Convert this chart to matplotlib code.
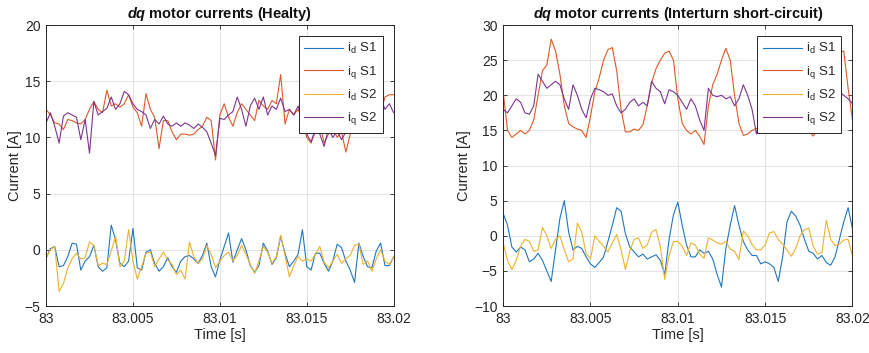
import numpy as np
import matplotlib.pyplot as plt

plt.rcParams['font.family'] = ['Liberation Sans', 'DejaVu Sans']
plt.rcParams['mathtext.fontset'] = 'custom'
plt.rcParams['mathtext.rm'] = 'Liberation Sans'
plt.rcParams['mathtext.it'] = 'Liberation Sans:italic'
plt.rcParams['mathtext.bf'] = 'Liberation Sans:italic:bold'

# time in ms after 83 s, 0.25 ms steps
t_ms = np.linspace(0, 20, 81)

# healthy motor
h_id_s1 = [-0.75, 0.1, 0.3, -1.5, -1.4, -0.6, 0.6, 0.5, -1.8, -1.0, -0.6, 0.4, -1.5, -1.9, -1.6, 2.2, 0.9,
           -1.2, -1.5, -1.0, 1.9, -1.6, -1.8, -0.2, 0.0, -1.2, -1.9, -1.5, -0.7, -1.5, -2.0, -1.0, -0.6,
           -0.5, -0.8, -1.2, -0.5, 0.6, -1.5, -2.4, -0.9,
           0.3, 1.5, -1.1, 0.0, 1.0, 0.0, -1.4, -2.0, -1.4, 0.6, -0.1, -1.3, -0.7, 1.2, -0.3, -1.5, -1.0,
           -0.4, 1.8, -1.5, -1.8, -0.3, -0.3, -1.2, -1.9, -1.0, 0.5, 0.2, -1.0, -1.8, -2.9, 0.6, -0.6,
           -1.5, -1.6, -0.1, 0.6, -1.4, -1.4, -0.6]
h_iq_s1 = [12.5, 12.0, 11.3, 11.2, 10.7, 11.6, 11.5, 11.3, 11.2, 11.6, 12.5, 13.2, 12.5, 12.2, 14.2, 12.8,
           13.0, 12.7, 13.0, 13.8, 12.7, 12.2, 11.0, 13.9, 12.5, 11.8, 9.0, 11.5, 11.5, 10.5, 9.8, 10.3,
           10.3, 10.2, 10.3, 10.7, 11.0, 11.8, 11.5, 8.0, 12.0,
           13.0, 11.8, 11.0, 12.2, 13.0, 12.5, 12.0, 11.5, 13.3, 12.8, 12.5, 13.3, 13.0, 15.6, 11.2, 12.5,
           12.0, 12.5, 11.5, 10.0, 9.5, 10.6, 11.2, 9.5, 10.3, 10.8, 10.0, 10.5, 8.7, 10.3, 11.0, 10.8,
           11.5, 11.0, 12.0, 12.5, 12.2, 13.6, 13.8, 13.8]
h_id_s2 = [-0.7, 0.0, 0.3, -3.7, -3.0, -1.6, -0.8, -0.3, -0.8, -0.7, 0.7, 0.4, -1.4, -1.2, -1.3, -0.1, 1.2,
           -1.5, -1.0, 1.8, -1.0, -2.6, -1.5, -0.3, -0.2, -1.5, -0.8, -0.2, -0.9, -1.3, -2.2, -1.8, -2.6,
           0.7, -0.6, -1.2, -0.8, 0.4, -0.4, -1.6, -1.0,
           -0.5, -0.2, -1.0, -0.5, 0.4, -0.4, -1.3, -2.1, -1.0, 0.3, -0.2, -1.2, -0.6, 1.3, -0.5, -2.4,
           -1.4, -0.6, -1.0, -0.8, -1.0, -0.4, 0.3, -1.1, -1.6, -1.0, -0.4, -1.2, -0.8, -0.5, 0.4, 0.5,
           -1.3, -1.0, -1.9, -0.8, 0.0, -1.0, -1.3, -0.6]
h_iq_s2 = [11.3, 12.2, 11.0, 9.5, 11.9, 12.2, 12.0, 11.8, 9.8, 11.6, 8.6, 13.2, 12.0, 12.3, 12.6, 13.6,
           12.5, 13.0, 14.1, 13.8, 13.0, 12.5, 12.3, 12.0, 10.8, 11.6, 11.2, 11.9, 11.2, 11.0, 11.3, 11.0,
           11.3, 11.1, 10.8, 11.2, 10.9, 10.5, 9.5, 8.4, 11.7,
           11.6, 12.0, 12.3, 13.6, 12.5, 11.0, 12.8, 13.5, 12.5, 13.6, 12.0, 12.8, 12.5, 13.5, 12.3, 12.5,
           12.0, 12.8, 11.5, 10.3, 9.6, 10.8, 10.3, 9.2, 10.8, 10.0, 10.6, 9.8, 10.5, 11.0, 10.7, 10.9,
           11.2, 10.9, 11.5, 12.0, 13.5, 12.5, 13.0, 12.2]

# interturn short-circuit
f_id_s1 = [3.2, 1.5, -1.6, -2.3, -1.6, -2.0, -3.7, -3.3, -2.5, -3.5,
           -5.0, -6.5, -2.0, 2.5, 5.0, 0.5, -2.0, -1.5, -1.8, -3.0,
           -4.0, -4.5, -3.8, -3.0, -0.8, 1.5, 4.0, 3.5, 0.3, -1.6,
           -2.3, -3.0, -2.6, -3.3, -3.0, -2.7, -3.5, -5.5, -0.5, 3.0,
           4.8, 1.5, -1.3, -3.0, -3.0, -2.0, -2.5, -2.2, -3.3, -5.5,
           -7.3, -1.8, 1.5, 4.3, 1.5, -0.8, -2.0, -2.8, -2.8, -4.0,
           -3.7, -4.0, -4.5, -6.5, -3.0, 2.0, 3.5, 2.8, 1.5, -0.5,
           -2.2, -2.5, -3.3, -2.8, -3.8, -4.2, -3.0, -0.5, 2.0, 4.0, 1.0]
f_iq_s1 = [20.5, 15.0, 14.0, 14.5, 15.0, 14.5, 15.0, 16.5, 20.0, 23.5,
           24.3, 28.0, 26.3, 23.0, 18.5, 16.0, 15.5, 15.2, 15.0, 14.0,
           17.0, 20.5, 22.5, 25.0, 26.5, 26.8, 23.5, 18.0, 14.8, 14.8,
           15.2, 15.0, 15.8, 18.5, 21.8, 23.8, 25.0, 26.0, 26.3, 25.0,
           19.5, 16.0, 15.0, 14.5, 15.0, 14.2, 13.0, 18.5, 21.5, 23.0,
           25.0, 26.7, 25.0, 20.0, 16.0, 14.3, 14.5, 15.0, 15.3, 15.0,
           16.0, 19.0, 22.0, 24.5, 26.5, 25.5, 22.0, 18.0, 15.5, 15.0,
           15.0, 14.2, 15.0, 17.0, 20.0, 23.0, 25.0, 26.0, 26.3, 21.0, 16.5]
f_id_s2 = [-1.0, -3.5, -4.8, -3.5, -1.5, -0.5, -0.8, -2.2, -2.0, 1.2,
           0.0, -1.8, -0.5, 0.0, -2.0, -3.7, -3.3, 1.8, 0.5, -2.5,
           -3.3, 0.0, -0.8, -1.5, -2.3, -1.0, 0.2, -2.0, -4.8, -2.2,
           -0.5, -0.3, -1.8, -1.3, 0.5, 0.9, -1.5, -6.2, -2.8, -0.8,
           -0.8, -1.5, -2.8, -1.0, -1.3, -2.6, -3.2, -0.3, -0.6, -1.0,
           -1.2, -0.8, -1.9, -2.2, -3.4, 0.7, 0.0, -1.2, -2.0, -2.0,
           -1.3, 0.4, 0.6, -0.5, -1.2, -2.0, -2.9, -1.8, 0.0, 0.85,
           1.1, -1.5, -2.6, -2.4, 2.2, -0.5, -1.4, -1.2, -0.6, -0.5, -2.8]
f_iq_s2 = [18.0, 17.5, 18.5, 19.5, 19.0, 17.5, 17.3, 18.5, 23.0, 22.0,
           21.0, 21.5, 22.0, 21.5, 19.5, 18.0, 21.5, 20.0, 18.0, 16.8,
           19.5, 21.0, 20.8, 20.5, 20.0, 20.2, 18.5, 17.5, 18.0, 19.0,
           19.5, 18.5, 19.0, 18.5, 22.0, 21.0, 20.5, 18.8, 20.8, 20.5,
           20.0, 19.0, 18.0, 19.5, 18.5, 16.5, 15.0, 21.0, 20.0, 19.8,
           20.0, 19.5, 19.8, 18.5, 19.5, 21.5, 20.0, 18.0, 14.5, 17.0,
           19.0, 20.5, 21.0, 20.0, 20.5, 19.5, 20.0, 19.0, 20.5, 21.0,
           20.0, 19.5, 20.0, 19.0, 18.5, 19.5, 20.0, 20.5, 20.0, 19.5, 18.8]

labels = [r'$\mathrm{i_d}$ S1', r'$\mathrm{i_q}$ S1', r'$\mathrm{i_d}$ S2', r'$\mathrm{i_q}$ S2']
colors = ['#1f77c0', '#dd5a26', '#ecb22e', '#7e3590']
xticks = [83, 83.005, 83.01, 83.015, 83.02]
xticklabels = ['83', '83.005', '83.01', '83.015', '83.02']

panels = [
    ('Healty', [h_id_s1, h_iq_s1, h_id_s2, h_iq_s2], (-5, 20), [-5, 0, 5, 10, 15, 20]),
    ('Interturn short-circuit', [f_id_s1, f_iq_s1, f_id_s2, f_iq_s2], (-10, 30),
     [-10, -5, 0, 5, 10, 15, 20, 25, 30]),
]

fig = plt.figure(figsize=(8.69, 3.53), dpi=100)
positions = [[0.053, 0.133, 0.400, 0.796], [0.579, 0.133, 0.402, 0.796]]
t = 83 + t_ms / 1000.0
dark = '#262626'

for pos, (name, series, ylim, yticks) in zip(positions, panels):
    ax = fig.add_axes(pos)
    for y, c, lab in zip(series, colors, labels):
        ax.plot(t, y, color=c, lw=0.8, label=lab)
    ax.set_xlim(83, 83.02)
    ax.set_ylim(*ylim)
    ax.set_xticks(xticks)
    ax.set_xticklabels(xticklabels)
    ax.set_yticks(yticks)
    ax.grid(True, color='#e3e3e3', lw=0.7)
    ax.set_axisbelow(True)
    ax.tick_params(direction='in', top=True, right=True, length=3, width=0.6,
                   labelsize=10, colors=dark, pad=4)
    for s in ax.spines.values():
        s.set_color(dark)
        s.set_linewidth(0.7)
    ax.set_xlabel('Time [s]', fontsize=10.5, color=dark, labelpad=2)
    ax.set_ylabel('Current [A]', fontsize=10.5, color=dark, labelpad=2)
    ax.set_title(r'$\mathbf{dq}$ motor currents (' + name + ')', fontsize=10.5,
                 fontweight='bold', color='#111111', pad=5)
    leg = ax.legend(loc='upper right', bbox_to_anchor=(0.968, 0.961), borderaxespad=0,
                    fontsize=9.5, handlelength=3.0, handletextpad=0.3, labelspacing=0.55,
                    fancybox=False, framealpha=1, edgecolor=dark, borderpad=0.4)
    leg.get_frame().set_linewidth(0.7)
    for txt in leg.get_texts():
        txt.set_color(dark)

fig.savefig('out.png', dpi=100)
